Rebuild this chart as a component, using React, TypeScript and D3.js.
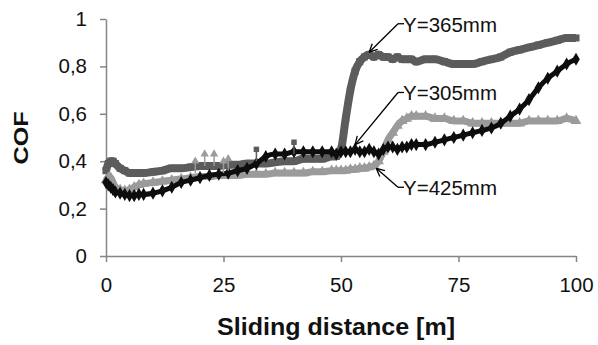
import React, { useEffect, useRef } from 'react';
import * as d3 from 'd3';

// sliding distance [m] shared by all three runs
const distance = [
  0, 0.5, 1, 1.5, 2, 3, 4, 5, 6, 7, 8,
  10, 12, 14, 16, 18, 20, 22, 24, 26, 28, 30, 32, 34, 36, 38, 40, 42, 44, 46, 48,
  49, 50, 51, 52, 53, 54, 55, 56, 57, 58, 59, 60, 61, 62, 63, 64, 65, 66,
  68, 70, 72, 74, 76, 78, 80, 82, 84, 86, 88, 90, 92, 94, 96, 98, 100,
];

// Y=365mm (dark gray squares)
const cof365 = [
  0.36, 0.39, 0.40, 0.40, 0.39, 0.37, 0.36, 0.35, 0.35, 0.35, 0.35,
  0.355, 0.36, 0.37, 0.37, 0.375, 0.38, 0.38, 0.38, 0.385, 0.385, 0.39, 0.39, 0.39, 0.395, 0.40, 0.40, 0.41, 0.41, 0.41, 0.42,
  0.42, 0.45, 0.58, 0.70, 0.78, 0.82, 0.84, 0.85, 0.84, 0.85, 0.84, 0.84, 0.83, 0.84, 0.83, 0.83, 0.83, 0.82,
  0.83, 0.83, 0.82, 0.81, 0.81, 0.81, 0.82, 0.83, 0.84, 0.86, 0.87, 0.88, 0.89, 0.90, 0.91, 0.92, 0.92,
];

// Y=305mm (black)
const cof305 = [
  0.31, 0.30, 0.29, 0.28, 0.27, 0.265, 0.26, 0.255, 0.255, 0.26, 0.26,
  0.265, 0.275, 0.29, 0.31, 0.32, 0.33, 0.34, 0.345, 0.35, 0.36, 0.37, 0.39, 0.42, 0.43, 0.43, 0.44, 0.44, 0.44, 0.44, 0.44,
  0.43, 0.44, 0.44, 0.44, 0.45, 0.44, 0.44, 0.45, 0.44, 0.43, 0.45, 0.46, 0.46, 0.45, 0.46, 0.46, 0.47, 0.47,
  0.47, 0.48, 0.49, 0.50, 0.51, 0.52, 0.53, 0.54, 0.56, 0.59, 0.62, 0.66, 0.71, 0.75, 0.78, 0.81, 0.83,
];

// Y=425mm (light gray triangles)
const cof425 = [
  0.32, 0.33, 0.33, 0.31, 0.29, 0.28, 0.275, 0.28, 0.29, 0.30, 0.305,
  0.31, 0.315, 0.32, 0.325, 0.33, 0.335, 0.335, 0.34, 0.34, 0.34, 0.345, 0.345, 0.345, 0.35, 0.35, 0.35, 0.35, 0.355, 0.355, 0.36,
  0.36, 0.36, 0.36, 0.365, 0.365, 0.37, 0.37, 0.375, 0.38, 0.40, 0.44, 0.49, 0.52, 0.55, 0.57, 0.58, 0.59, 0.59,
  0.59, 0.58, 0.58, 0.57, 0.57, 0.56, 0.56, 0.56, 0.56, 0.56, 0.56, 0.57, 0.57, 0.57, 0.57, 0.58, 0.57,
];

// scattered spikes above the bands
const spike425X = [19, 21, 23, 25, 26];
const spike425Y = [0.40, 0.43, 0.43, 0.40, 0.41];
const spike365X = [32, 40];
const spike365Y = [0.45, 0.48];

const xTicks = [0, 25, 50, 75, 100];
const yTicks = [0, 0.2, 0.4, 0.6, 0.8, 1];

const labels = [
  { text: 'Y=365mm', tx: 0.365, ty: 0.98, ax: 56, ay: 0.86 },
  { text: 'Y=305mm', tx: 0.365, ty: 0.69, ax: 53, ay: 0.47 },
  { text: 'Y=425mm', tx: 0.365, ty: 0.29, ax: 57.5, ay: 0.37 },
];

const FONT = '"Liberation Sans", Arial, sans-serif';

const App = () => {
  const ref = useRef<SVGSVGElement | null>(null);

  useEffect(() => {
    const svg = d3.select(ref.current);
    svg.selectAll('*').remove();

    const x = d3.scaleLinear().domain([0, 100]).range([106, 576]);
    const y = d3.scaleLinear().domain([0, 1]).range([256, 19]);

    const fmt = (d: number) => (d === 0 || d === 1 ? String(d) : d3.format('.1f')(d).replace('.', ','));

    // axes
    const gx = svg.append('g').attr('transform', `translate(0,${y(0)})`)
      .call(d3.axisBottom(x).tickValues(xTicks).tickSize(6).tickSizeOuter(0).tickPadding(15));
    const gy = svg.append('g').attr('transform', `translate(${x(0)},0)`)
      .call(d3.axisLeft(y).tickValues(yTicks).tickFormat(fmt as any).tickSize(6).tickSizeOuter(0).tickPadding(13));
    [gx, gy].forEach(g => {
      g.selectAll('path,line').attr('stroke', '#858585').attr('stroke-width', 1.5);
      g.selectAll('text').attr('fill', '#111').style('font-size', '20.5px').style('font-family', FONT);
    });

    const series = [
      { ys: cof365, color: '#5c5c5c', shape: d3.symbolSquare, w: 8 },
      { ys: cof425, color: '#9b9b9b', shape: d3.symbolTriangle, w: 7 },
      { ys: cof305, color: '#0d0d0d', shape: d3.symbolDiamond, w: 5 },
    ];

    const line = d3.line<number>()
      .x((_, i) => x(distance[i]))
      .curve(d3.curveMonotoneX);

    series.forEach(s => {
      svg.append('path')
        .attr('d', line.y(v => y(v))(s.ys))
        .attr('fill', 'none')
        .attr('stroke', s.color)
        .attr('stroke-width', s.w)
        .attr('stroke-linejoin', 'round');
      svg.append('g').selectAll('path')
        .data(s.ys)
        .enter().append('path')
        .attr('d', d3.symbol().type(s.shape).size(50)())
        .attr('transform', (v, i) => `translate(${x(distance[i])},${y(v)})`)
        .attr('fill', s.color);
    });

    // spikes
    const spikes = [
      { xs: spike425X, ys: spike425Y, color: '#9b9b9b', shape: d3.symbolTriangle },
      { xs: spike365X, ys: spike365Y, color: '#5c5c5c', shape: d3.symbolSquare },
    ];
    spikes.forEach(s => {
      s.xs.forEach((d, i) => {
        svg.append('line')
          .attr('x1', x(d)).attr('x2', x(d))
          .attr('y1', y(s.ys[i])).attr('y2', y(s.ys[i] - 0.05))
          .attr('stroke', s.color).attr('stroke-width', 1.5);
        svg.append('path')
          .attr('d', d3.symbol().type(s.shape).size(30)())
          .attr('transform', `translate(${x(d)},${y(s.ys[i])})`)
          .attr('fill', s.color);
      });
    });

    // callouts
    labels.forEach(l => {
      const sx = 398;
      const sy = y(l.ty);
      const ex = x(l.ax);
      const ey = y(l.ay);
      svg.append('line').attr('x1', sx).attr('y1', sy).attr('x2', sx + 6).attr('y2', sy)
        .attr('stroke', '#000').attr('stroke-width', 1.3);
      svg.append('line').attr('x1', sx).attr('y1', sy).attr('x2', ex).attr('y2', ey)
        .attr('stroke', '#000').attr('stroke-width', 1.3);
      const ang = Math.atan2(sy - ey, sx - ex);
      [0.45, -0.45].forEach(da => {
        svg.append('line')
          .attr('x1', ex).attr('y1', ey)
          .attr('x2', ex + 9 * Math.cos(ang + da)).attr('y2', ey + 9 * Math.sin(ang + da))
          .attr('stroke', '#000').attr('stroke-width', 1.3);
      });
      svg.append('text')
        .attr('x', sx + 5).attr('y', sy + 8)
        .style('font-size', '20.5px').style('font-family', FONT)
        .attr('fill', '#111')
        .text(l.text);
    });

    // axis titles
    svg.append('text')
      .attr('transform', 'translate(28,138) rotate(-90)')
      .attr('text-anchor', 'middle')
      .attr('textLength', 53).attr('lengthAdjust', 'spacingAndGlyphs')
      .style('font-size', '21px').style('font-weight', 'bold').style('font-family', FONT)
      .attr('fill', '#111')
      .text('COF');
    svg.append('text')
      .attr('x', 336).attr('y', 335)
      .attr('text-anchor', 'middle')
      .attr('textLength', 238).attr('lengthAdjust', 'spacingAndGlyphs')
      .style('font-size', '23px').style('font-weight', 'bold').style('font-family', FONT)
      .attr('fill', '#111')
      .text('Sliding distance [m]');
  }, []);

  return (
    <div style={{ position: 'absolute', left: 0, top: 0, background: '#fff' }}>
      <svg ref={ref} width={598} height={345} style={{ display: 'block' }}></svg>
    </div>
  );
};

export default App;
